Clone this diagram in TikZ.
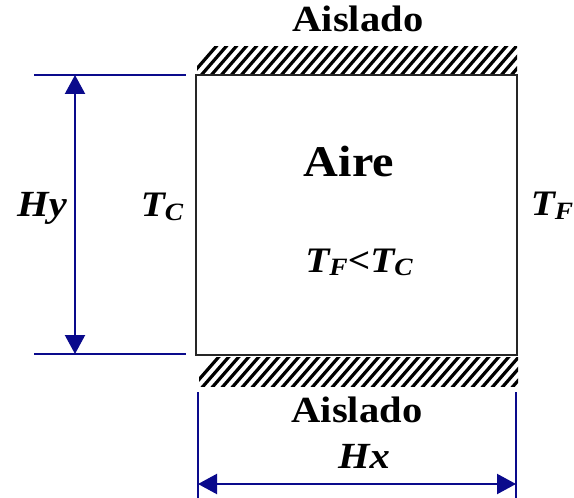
\documentclass[tikz,border=0pt]{standalone}
\usepackage{fontspec}
\setmainfont{Liberation Serif}
\usetikzlibrary{arrows.meta}
\definecolor{navy}{RGB}{10,10,140}
\newcommand{\wide}[1]{\scalebox{1.1}[1]{#1}}
\newcommand{\sub}[1]{\raisebox{-0.1em}{\fontsize{25}{25}\selectfont #1}}
\tikzset{
  lbl/.style={inner sep=0pt, anchor=base, font=\bfseries},
  dimline/.style={navy, line width=2bp},
  dimarrow/.style={navy, line width=2.2bp, {Triangle[length=19bp,width=20bp]}-{Triangle[length=19bp,width=20bp]}},
  hatch/.style={line width=3.2bp, black},
}
\begin{document}
\begin{tikzpicture}[x=1bp,y=-1bp]
\useasboundingbox (0,0) rectangle (574,498);
% hatched insulation
\begin{scope}
  \clip (197,47) rectangle (517,75);
  \foreach \i in {0,...,36} {\draw[hatch] (187+\i*10,80) -- (187+\i*10+33,42);}
\end{scope}
\begin{scope}
  \clip (199,357) rectangle (518,386);
  \foreach \i in {0,...,36} {\draw[hatch] (189+\i*10,391) -- (189+\i*10+34,352);}
\end{scope}
% cavity
\node[draw=black!85, line width=2bp, minimum width=321bp, minimum height=280bp, inner sep=0pt] (box) at (356,215) {};
% labels
\node[lbl] (ais1) at (358,32) {\fontsize{37}{40}\selectfont\wide{Aislado}};
\node[lbl] (ais2) at (357,422) {\fontsize{37}{40}\selectfont\wide{Aislado}};
\node[lbl] (aire) at (349,177) {\fontsize{44}{48}\selectfont\wide{Aire}};
\node[lbl] (rel) at (359,272) {\fontsize{36}{40}\selectfont\itshape\wide{T\sub{F}<T\sub{C}}};
\node[lbl] (tc) at (162,217) {\fontsize{36}{40}\selectfont\itshape\wide{T\sub{C}}};
\node[lbl] (tf) at (552,216) {\fontsize{36}{40}\selectfont\itshape\wide{T\sub{F}}};
\node[lbl] (hy) at (42,217) {\fontsize{37}{40}\selectfont\itshape\wide{Hy}};
\node[lbl] (hx) at (364,468) {\fontsize{37}{40}\selectfont\itshape\wide{Hx}};
% dimension lines
\coordinate (ytl) at (34,75);  \coordinate (ytr) at (186,75);
\coordinate (ybl) at (34,354); \coordinate (ybr) at (186,354);
\coordinate (ya) at (75,75);   \coordinate (yb) at (75,354);
\draw[dimline] (ytl) -- (ytr);
\draw[dimline] (ybl) -- (ybr);
\draw[dimarrow] (ya) -- (yb);
\coordinate (xlt) at (198,392); \coordinate (xlb) at (198,498);
\coordinate (xrt) at (516,392); \coordinate (xrb) at (516,498);
\coordinate (xa) at (198,484);  \coordinate (xb) at (516,484);
\draw[dimline] (xlt) -- (xlb);
\draw[dimline] (xrt) -- (xrb);
\draw[dimarrow] (xa) -- (xb);
\end{tikzpicture}
\end{document}
